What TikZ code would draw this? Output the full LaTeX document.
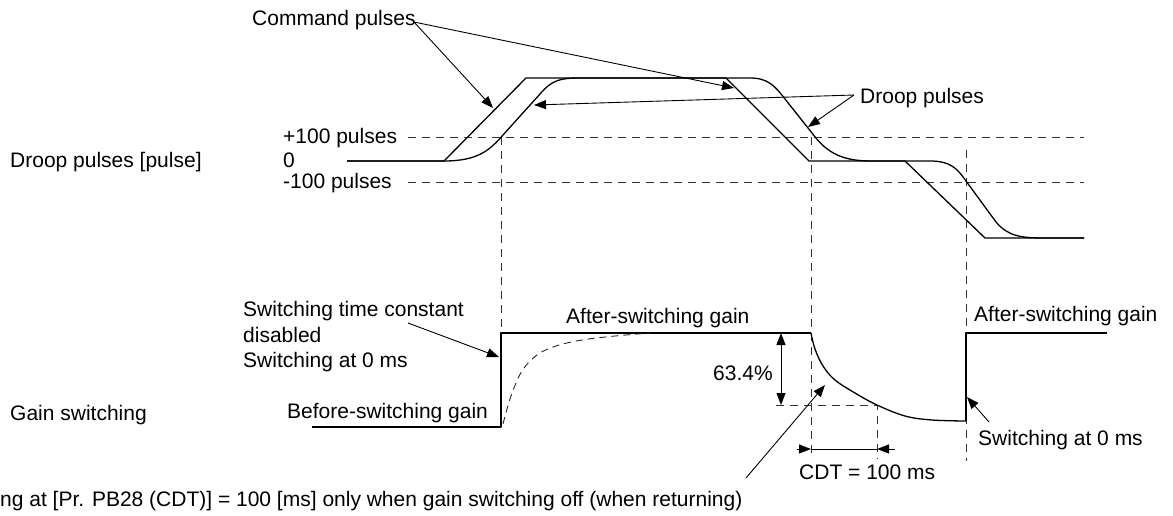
\documentclass[tikz,border=0pt]{standalone}
\usepackage{fontspec}
\setmainfont{Liberation Sans}
\usetikzlibrary{arrows.meta}
\begin{document}
\begin{tikzpicture}[x=1pt,y=-1pt,
  lbl/.style={anchor=base west, inner sep=0pt, font=\fontsize{21}{25.5}\selectfont},
  curve/.style={line width=1.3pt, line join=round},
  guide/.style={line width=1pt, black!80, dash pattern=on 8pt off 6pt},
  softguide/.style={line width=0.9pt, black!85, dash pattern=on 7pt off 5pt},
  ptr/.style={line width=0.9pt, -{Triangle[length=12pt,width=9pt]}},
  dimarrow/.style={line width=1pt, {Triangle[length=12pt,width=9pt]}-{Triangle[length=12pt,width=9pt]}},
]
\useasboundingbox (0,0) rectangle (1173,515);

% ---------- labels ----------
\node[lbl] (cmd) at (252,25.7) {Command pulses};
\node[lbl] (droopaxis) at (10,167) {Droop pulses [pulse]};
\node[lbl] (p100) at (283,143) {+100 pulses};
\node[lbl] (zero) at (283,167) {0};
\node[lbl] (m100) at (283,188) {-100 pulses};
\node[lbl] (droop) at (860,103) {Droop pulses};
\node[lbl, anchor=north west, align=left] (stc) at (243,301.5) {Switching time constant\\disabled\\Switching at 0 ms};
\node[lbl] (gainsw) at (10,420.5) {Gain switching};
\node[lbl] (before) at (287,418) {Before-switching gain};
\node[lbl] (after1) at (566,323) {After-switching gain};
\node[lbl] (pct) at (713,380) {63.4\%};
\node[lbl] (after2) at (974,321) {After-switching gain};
\node[lbl] (sw0) at (978,445) {Switching at 0 ms};
\node[lbl] (cdt) at (799,479) {CDT = 100 ms};
\node[lbl] (bottom) at (0,506) {ng at [Pr. PB28 (CDT)] = 100 [ms] only when gain switching off (when returning)};

% ---------- guide lines ----------
\coordinate (h1a) at (408,137);  \coordinate (h1b) at (1084,137);
\coordinate (h2a) at (408,182);  \coordinate (h2b) at (1084,182);
\draw[guide] (h1a) -- (h1b);
\draw[guide] (h2a) -- (h2b);
\coordinate (v1a) at (501,137);  \coordinate (v1b) at (501,333);
\coordinate (v2a) at (811,137);  \coordinate (v2b) at (811,459);
\coordinate (v3a) at (966,150);  \coordinate (v3b) at (966,461);
\draw[guide] (v1a) -- (v1b);
\draw[guide] (v2a) -- (v2b);
\draw[guide] (v3a) -- (v3b);
\coordinate (h3a) at (776,405);  \coordinate (h3b) at (877,405);
\coordinate (v4b) at (877,459);
\draw[guide] (h3a) -- (h3b) -- (v4b);

% ---------- command pulses ----------
\draw[curve] (347,161) -- (444,161) -- (526,78) -- (726,78) -- (809,161)
  -- (905,161) -- (985,238) -- (1084,238);

% ---------- droop pulses ----------
\draw[curve] (347,161) -- (444,161)
  .. controls (478,161) and (490,150) .. (503,135) -- (540,94)
  .. controls (552,80) and (560,78) .. (580,78) -- (750,78)
  .. controls (768,78) and (775,86) .. (785,99) -- (812,133)
  .. controls (828,155) and (845,161) .. (872,161) -- (930,161)
  .. controls (950,161) and (957,168) .. (966,181) -- (996,222)
  .. controls (1008,236) and (1020,238) .. (1045,238) -- (1084,238);

% ---------- gain switching ----------
\draw[curve] (312,427) -- (501,427) -- (501,333) -- (811,333);
\draw[curve] plot[smooth, tension=0.6] coordinates {(811,333) (815,349) (823,366) (835,380) (855,393) (877,405) (905,416) (932,420) (966,421)};
\draw[curve] (966,421) -- (966,333) -- (1107,333);
\draw[softguide] plot[smooth, tension=0.6] coordinates {(503,424) (511,396) (522,371) (537,355) (556,346) (582,340) (615,336) (650,333)};

% ---------- pointer arrows ----------
\coordinate (cmdO) at (414,22);
\coordinate (c1) at (493,108);
\coordinate (c2) at (734,88);
\draw[ptr] (cmdO) -- (c1);
\draw[ptr] (cmdO) -- (c2);
\coordinate (drO) at (854,95);
\coordinate (d1) at (534,105);
\coordinate (d2) at (808,127);
\draw[ptr] (drO) -- (d1);
\draw[ptr] (drO) -- (d2);
\coordinate (stcO) at (408,323);
\coordinate (stcT) at (499,357);
\draw[ptr] (stcO) -- (stcT);
\coordinate (botO) at (746,478);
\coordinate (botT) at (825,385);
\draw[ptr] (botO) -- (botT);
\coordinate (sw0O) at (989,422);
\coordinate (sw0T) at (967,397);
\draw[ptr] (sw0O) -- (sw0T);

% ---------- dimensions ----------
\coordinate (pa) at (781,333);
\coordinate (pb) at (781,405);
\draw[dimarrow] (pa) -- (pb);
\coordinate (ca) at (797,449);
\coordinate (cb) at (811,449);
\coordinate (cc) at (877,449);
\coordinate (cd) at (895,449);
\draw[ptr, line width=1pt] (ca) -- (cb);
\draw[ptr, line width=1pt] (cd) -- (cc);
\draw[line width=1pt] (cb) -- (cc);
\end{tikzpicture}
\end{document}
